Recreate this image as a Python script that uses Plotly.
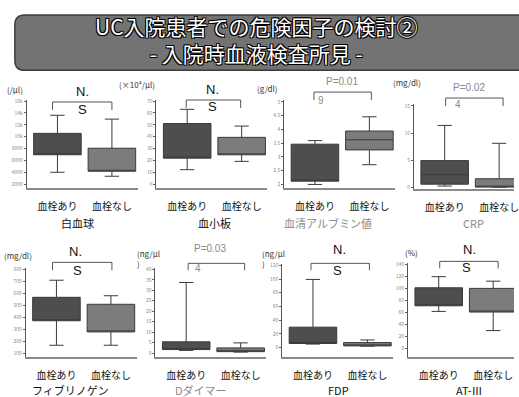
import plotly.graph_objects as go

W_PX, H_PX = 519, 397

categories = ["血栓あり", "血栓なし"]

# box stats per group: [lower whisker, q1, median, q3, upper whisker]
wbc_yes = [4000, 6950, 6950, 10550, 13600]
wbc_no = [3330, 4170, 4170, 8050, 12950]
plt_yes = [12.2, 21.9, 21.9, 51.0, 63.0]
plt_no = [19.2, 24.7, 24.7, 39.4, 48.9]
alb_yes = [1.99, 2.11, 2.11, 3.46, 3.59]
alb_no = [2.71, 3.25, 3.62, 3.94, 4.46]
crp_yes = [0.2, 0.54, 2.3, 4.9, 11.4]
crp_no = [0.0, 0.0, 0.0, 1.55, 8.1]
fib_yes = [168, 372, 372, 567, 709]
fib_no = [168, 279, 279, 509, 580]
dd_yes = [1.3, 1.7, 1.7, 5.4, 33.7]
dd_no = [0.5, 0.7, 0.7, 2.5, 4.9]
fdp_yes = [5.0, 5.8, 5.8, 29.7, 99.4]
fdp_no = [2.0, 2.3, 2.3, 7.2, 11.0]
at3_yes = [61.7, 71.0, 71.0, 101.0, 119.5]
at3_no = [29.8, 60.6, 60.6, 100.0, 112.0]

# tick values
wbc_ticks = [2000, 4000, 6000, 8000, 10000, 12000, 14000, 16000]
plt_ticks = [0, 10, 20, 30, 40, 50, 60, 70]
alb_ticks = [2, 2.5, 3, 3.5, 4, 4.5, 5]
crp_ticks = [0, 5, 10, 15]
fib_ticks = [100, 200, 300, 400, 500, 600, 700, 800]
dd_ticks = [0, 5, 10, 15, 20, 25, 30, 35, 40]
fdp_ticks = [0, 20, 40, 60, 80, 100, 120]
at3_ticks = [0, 20, 40, 60, 80, 100, 120, 140]

titles = ["白血球", "血小板", "血清アルブミン値", "CRP",
          "フィブリノゲン", "Dダイマー", "FDP", "AT-Ⅲ"]
units = ["(/μl)", "(×10⁴/μl)", "(g/dl)", "(mg/dl)",
         "(mg/dl)", "(ng/μl<br>)", "(ng/μl<br>)", "(%)"]
sig_top = ["N.", "N.", "P=0.01", "P=0.02", "N.", "P=0.03", "N.", "N."]
sig_bottom = ["S", "S", "9", "4", "S", "4", "S", "S"]

FONT = "Noto Sans CJK JP, Noto Sans, sans-serif"


def px(x):
    return x / W_PX


def py(y):
    return 1 - y / H_PX


# layout geometry (pixels)
panels = [
    # data_yes, data_no, ticks, (v_a, p_a), (v_b, p_b), x0, width, bottom, top
    (wbc_yes, wbc_no, wbc_ticks, (2000, 183), (16000, 99), 27, 112, 187, 98),
    (plt_yes, plt_no, plt_ticks, (0, 183), (70, 99), 158, 112, 187, 98),
    (alb_yes, alb_no, alb_ticks, (2, 183), (5, 100), 287, 112, 187, 98),
    (crp_yes, crp_no, crp_ticks, (0, 186), (15, 104), 418, 101, 188, 102),
    (fib_yes, fib_no, fib_ticks, (100, 354), (800, 269), 26, 112, 358, 268),
    (dd_yes, dd_no, dd_ticks, (0, 353.7), (40, 269), 157, 112, 358, 268),
    (fdp_yes, fdp_no, fdp_ticks, (0, 348), (120, 265), 285, 112, 358, 264),
    (at3_yes, at3_no, at3_ticks, (0, 349), (140, 264), 412, 107, 358, 263),
]

title_pos = [(78, 222), (217, 222), (331, 222), (478, 222),
             (71, 391), (203, 391), (342, 391), (474, 391)]
title_colors = ["#111", "#111", "#8a8a8a", "#8a8a8a",
                "#111", "#8a8a8a", "#111", "#111"]
unit_pos = [(15, 87), (138, 82), (270, 86), (411, 80),
            (18, 255), (150, 258), (276, 258), (415, 252)]
# bracket: x1, x2, ytop, ydrop ; text positions
brackets = [(53, 113, 100, 108), (188, 243, 98, 106), (317, 375, 90, 98),
            (450, 508, 96, 104), (53, 113, 262, 270), (190, 247, 263, 270),
            (314, 373, 263, 270), (444, 503, 261, 268)]
sig_top_pos = [(83, 89), (215, 87), (345, 79), (474, 85),
               (76, 251), (212, 248), (343, 249), (474, 249)]
sig_bot_pos = [(83, 108), (215, 105), (324, 98), (462, 103),
               (78, 270), (200, 268), (341, 270), (471, 267)]
sig_colors = ["#111", "#111", "#8a8a8a", "#8a8a8a",
              "#111", "#8a8a8a", "#111", "#111"]

fig = go.Figure()
layout = dict(
    width=W_PX, height=H_PX, autosize=False,
    margin=dict(l=0, r=0, t=0, b=0),
    paper_bgcolor="white", plot_bgcolor="white",
    showlegend=False, boxmode="overlay",
    font=dict(family=FONT, color="#111"),
)

fills = ["#4e4e4e", "#7c7c7c"]
cat_w = 55.0
for i, (dy, dn, ticks, (va, pa), (vb, pb), x0, w, bot, top) in enumerate(panels):
    n = i + 1
    xa = "x" if n == 1 else f"x{n}"
    ya = "y" if n == 1 else f"y{n}"
    for j, d in enumerate([dy, dn]):
        fig.add_trace(go.Box(
            x=[categories[j]],
            lowerfence=[d[0]], q1=[d[1]], median=[d[2]], q3=[d[3]],
            upperfence=[d[4]],
            width=48 / cat_w, whiskerwidth=0.3,
            fillcolor=fills[j], line=dict(color="#3a3a3a", width=1),
            xaxis=xa, yaxis=ya, hoverinfo="skip",
        ))
    s = (vb - va) / (pa - pb)
    ymin = va - (bot - pa) * s
    ymax = vb + (pb - top) * s
    layout["xaxis" if n == 1 else f"xaxis{n}"] = dict(
        domain=[px(x0), px(x0 + w)], anchor=ya,
        type="category", categoryorder="array", categoryarray=categories,
        range=[-31 / cat_w, (w - 31) / cat_w],
        showline=True, linecolor="#8a8a8a", linewidth=1.5,
        showgrid=False, zeroline=False, ticks="",
        tickfont=dict(size=10, family=FONT, color="#111"),
        ticklabelstandoff=8, fixedrange=True,
    )
    layout["yaxis" if n == 1 else f"yaxis{n}"] = dict(
        domain=[py(bot), py(top)], anchor=xa,
        range=[ymin, ymax], tickvals=ticks,
        showline=True, linecolor="#555", linewidth=1,
        ticks="outside", ticklen=2, tickcolor="#666",
        tickfont=dict(size=5, color="#888"),
        showgrid=False, zeroline=False, fixedrange=True,
    )

shapes = []
annotations = []

# title banner (rounded rectangle)
bx1, bx2, by1, by2, r = 15, 530, 12, 68, 10
path = (f"M {px(bx1 + r)},{py(by1)} L {px(bx2)},{py(by1)} L {px(bx2)},{py(by2)} "
        f"L {px(bx1 + r)},{py(by2)} Q {px(bx1)},{py(by2)} {px(bx1)},{py(by2 - r)} "
        f"L {px(bx1)},{py(by1 + r)} Q {px(bx1)},{py(by1)} {px(bx1 + r)},{py(by1)} Z")
shapes.append(dict(type="path", xref="paper", yref="paper", path=path,
                   fillcolor="#737373", line=dict(color="#3c3c3c", width=1.5),
                   layer="below"))
outline = "1px 1px 0 #000, -1px -1px 0 #000, 1px -1px 0 #000, -1px 1px 0 #000"
annotations.append(dict(
    text="UC入院患者での危険因子の検討②<br>- 入院時血液検査所見 -",
    x=px(259), y=py(37), xref="paper", yref="paper",
    showarrow=False, xanchor="center", yanchor="middle", align="center",
    font=dict(size=21, color="white", family=FONT, shadow=outline)))

for i in range(8):
    tx, ty = title_pos[i]
    annotations.append(dict(text=titles[i], x=px(tx), y=py(ty), xref="paper",
                            yref="paper", showarrow=False, xanchor="center",
                            yanchor="middle",
                            font=dict(size=11, color=title_colors[i], family=FONT)))
    ux, uy = unit_pos[i]
    annotations.append(dict(text=units[i], x=px(ux), y=py(uy), xref="paper",
                            yref="paper", showarrow=False, xanchor="center",
                            yanchor="middle", align="left",
                            font=dict(size=8, color="#333", family=FONT)))
    x1, x2, yt, yd = brackets[i]
    shapes.append(dict(type="path", xref="paper", yref="paper",
                       path=f"M {px(x1)},{py(yd)} L {px(x1)},{py(yt)} L {px(x2)},{py(yt)} L {px(x2)},{py(yd)}",
                       line=dict(color="#555", width=1)))
    sx, sy = sig_top_pos[i]
    big = sig_top[i] == "N."
    annotations.append(dict(text=sig_top[i], x=px(sx), y=py(sy), xref="paper",
                            yref="paper", showarrow=False, xanchor="center",
                            yanchor="middle",
                            font=dict(size=13 if big else 10, color=sig_colors[i],
                                      family="Liberation Sans, Arial")))
    bxp, byp = sig_bot_pos[i]
    annotations.append(dict(text=sig_bottom[i], x=px(bxp), y=py(byp), xref="paper",
                            yref="paper", showarrow=False, xanchor="center",
                            yanchor="middle",
                            font=dict(size=13 if big else 10, color=sig_colors[i],
                                      family="Liberation Sans, Arial")))

layout["shapes"] = shapes
layout["annotations"] = annotations
fig.update_layout(**layout)
fig.write_html("out.html")
